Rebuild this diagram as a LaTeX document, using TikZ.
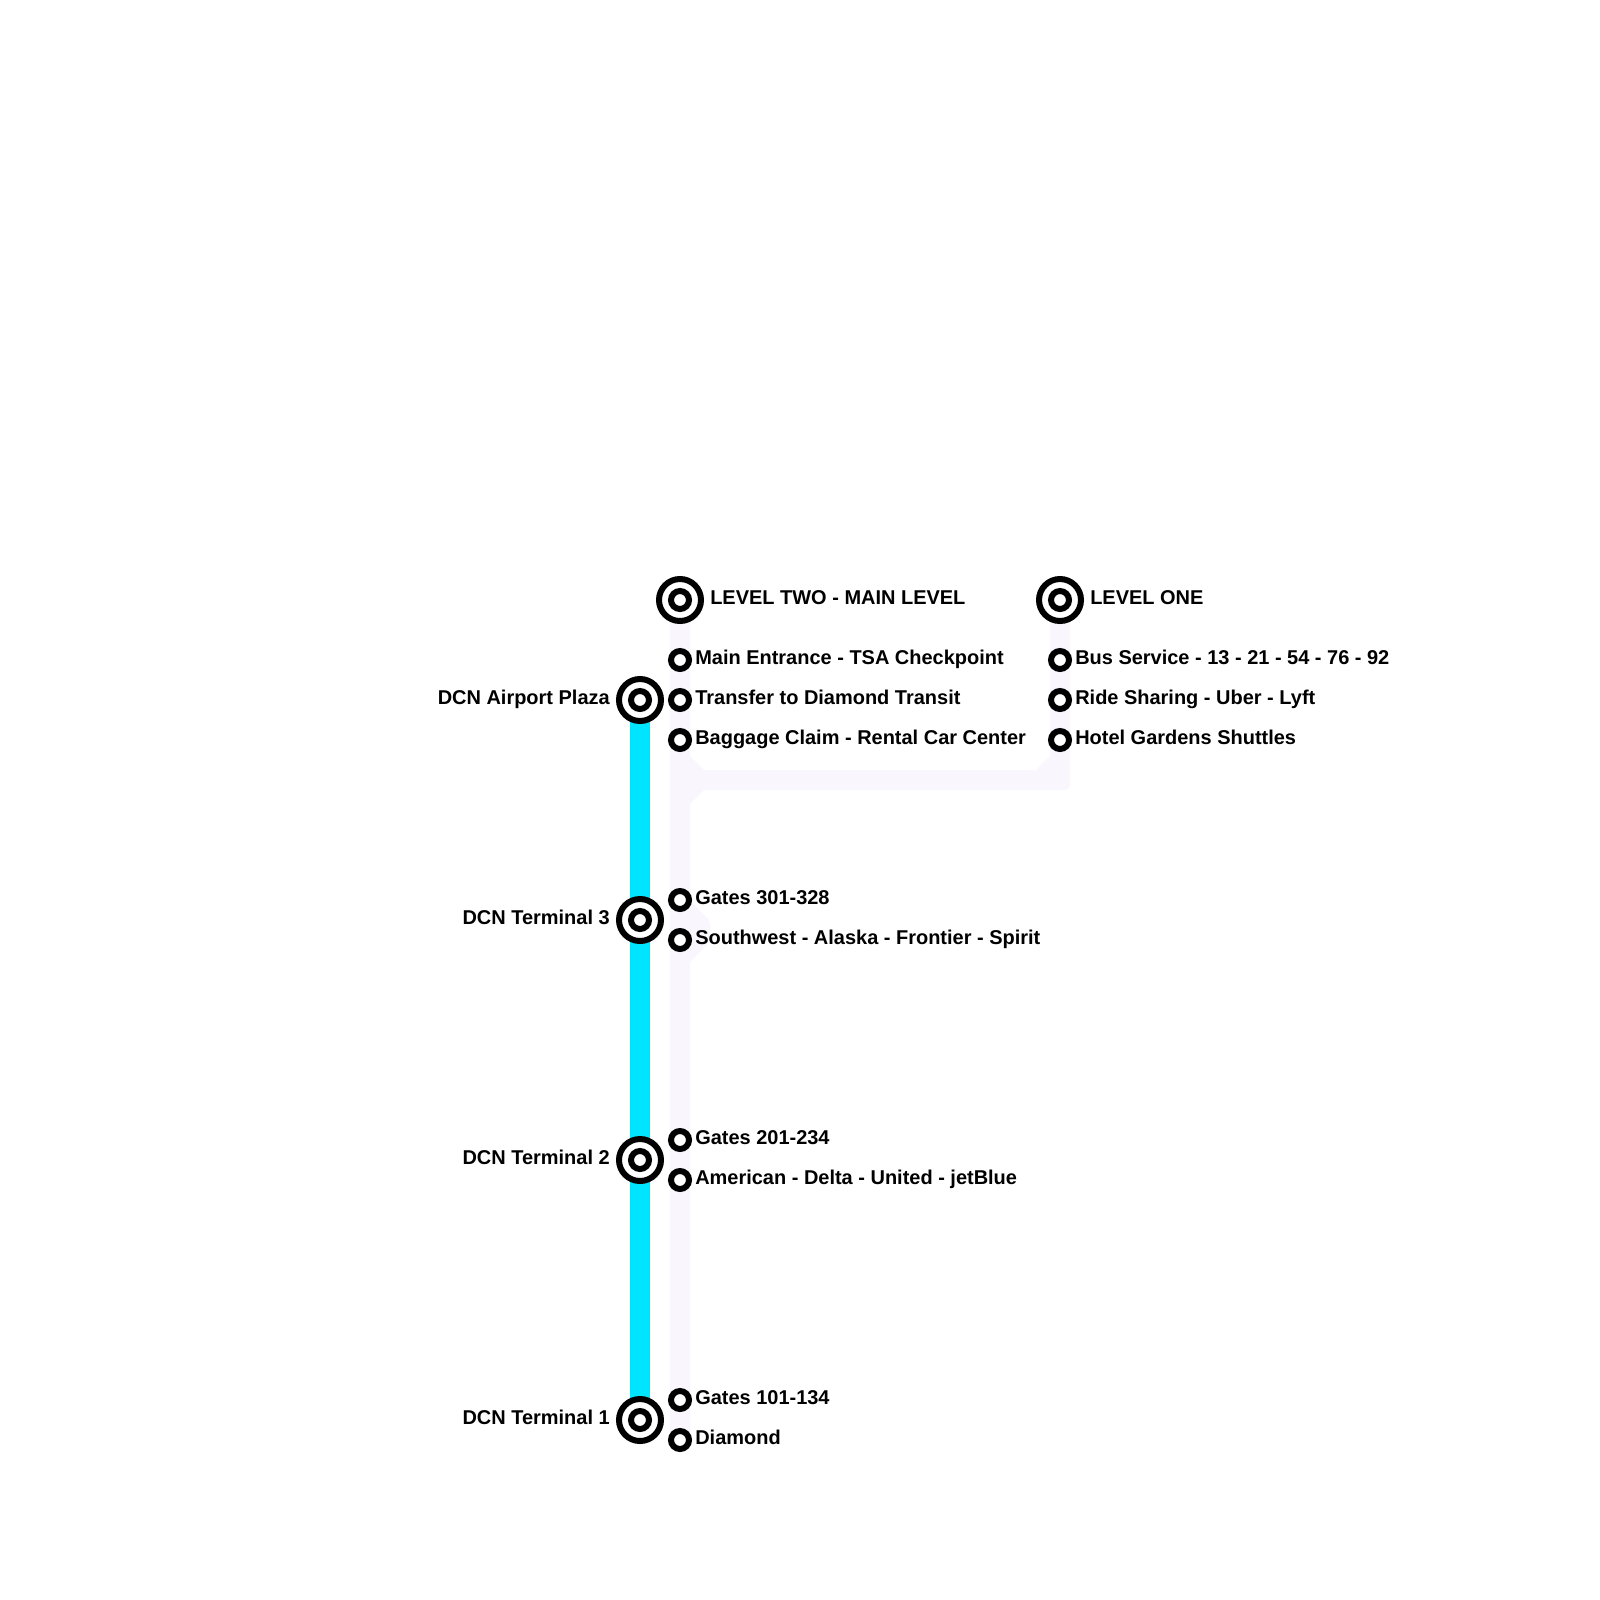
\documentclass[tikz,border=0pt]{standalone}
\usepackage{fontspec}
\setmainfont{Liberation Sans}
\usepackage{tikz}
\usetikzlibrary{calc}
\def\px{0.025cm}
\definecolor{cyanline}{HTML}{00E5FF}
\definecolor{paleline}{HTML}{F9F7FD}
\tikzset{
  stop/.style={circle, draw=black, fill=white, line width=6*\px, minimum size=18*\px, inner sep=0pt},
  hub/.style={circle, draw=black, fill=white, line width=6*\px, minimum size=42*\px, inner sep=0pt},
  stoplabel/.style={anchor=base west, inner sep=0pt, font=\bfseries\fontsize{14.2pt}{16pt}\selectfont},
  hublabel/.style={anchor=base east, inner sep=0pt, font=\bfseries\fontsize{14.2pt}{16pt}\selectfont},
  paleroute/.style={paleline, line width=20*\px, miter limit=10},
}

\begin{document}
\begin{tikzpicture}[x=\px, y=-\px]
  \useasboundingbox (0,0) rectangle (1600,1600);

  % -------------------------
  % Route points
  % -------------------------
  \coordinate (levelTwoC) at (680,600);
  \coordinate (levelOneC) at (1060,600);
  \coordinate (diamondC) at (680,1440);
  \coordinate (plazaC) at (640,700);
  \coordinate (termOneC) at (640,1420);

  % Pale routes
  \coordinate (splitTop) at (680,760);
  \coordinate (splitMid) at (700,780);
  \coordinate (splitLow) at (680,800);
  \coordinate (cornerIn) at (1040,780);
  \coordinate (cornerUp) at (1060,760);
  \coordinate (bumpA) at (680,905);
  \coordinate (bumpB) at (700,925);
  \coordinate (bumpC) at (700,938);
  \coordinate (bumpD) at (680,958);

  \draw[paleroute] (levelTwoC) -- (splitTop) -- (splitMid) -- (cornerIn) -- (cornerUp) -- (levelOneC);
  \draw[paleroute, line join=round] (bumpA) -- (bumpB) -- (bumpC) -- (bumpD);
  \draw[paleroute] (splitMid) -- (splitLow) -- (diamondC);
  \draw[paleroute] (levelTwoC) -- (diamondC);
  \fill[paleline, rounded corners=5*\px] (1040,770) -- (1070,750) -- (1070,790) -- (1040,790) -- cycle;

  % Main line
  \draw[cyanline, line width=20*\px] (plazaC) -- (termOneC);

  % -------------------------
  % Small stops
  % -------------------------
  \foreach \name/\x/\y/\txt in {
    main/680/660/Main Entrance - TSA Checkpoint,
    transfer/680/700/Transfer to Diamond Transit,
    baggage/680/740/Baggage Claim - Rental Car Center,
    gatesC/680/900/Gates 301-328,
    southwest/680/940/Southwest - Alaska - Frontier - Spirit,
    gatesB/680/1140/Gates 201-234,
    american/680/1180/American - Delta - United - jetBlue,
    gatesA/680/1400/Gates 101-134,
    diamond/680/1440/Diamond,
    bus/1060/660/Bus Service - 13 - 21 - 54 - 76 - 92,
    ride/1060/700/Ride Sharing - Uber - Lyft,
    hotel/1060/740/Hotel Gardens Shuttles}{
    \node[stop] (\name) at (\x,\y) {};
    \node[stoplabel] (\name Label) at (\x+15,\y+4.6) {\txt};
  }

  % -------------------------
  % Hubs, ring and inner stop
  % -------------------------
  \foreach \name/\x/\y in {levelTwo/680/600, levelOne/1060/600, plaza/640/700, termThree/640/920, termTwo/640/1160, termOne/640/1420}{
    \node[hub] (\name) at (\x,\y) {};
    \node[stop] (\name Dot) at (\x,\y) {};
  }

  % Hub labels
  \node[stoplabel] (levelTwoLabel) at (710,604.6) {LEVEL TWO - MAIN LEVEL};
  \node[stoplabel] (levelOneLabel) at (1090,604.6) {LEVEL ONE};
  \foreach \name/\y/\txt in {plaza/704.6/DCN Airport Plaza, termThree/924.6/DCN Terminal 3, termTwo/1164.6/DCN Terminal 2, termOne/1424.6/DCN Terminal 1}{
    \node[hublabel] (\name Label) at (610,\y) {\txt};
  }
\end{tikzpicture}
\end{document}
